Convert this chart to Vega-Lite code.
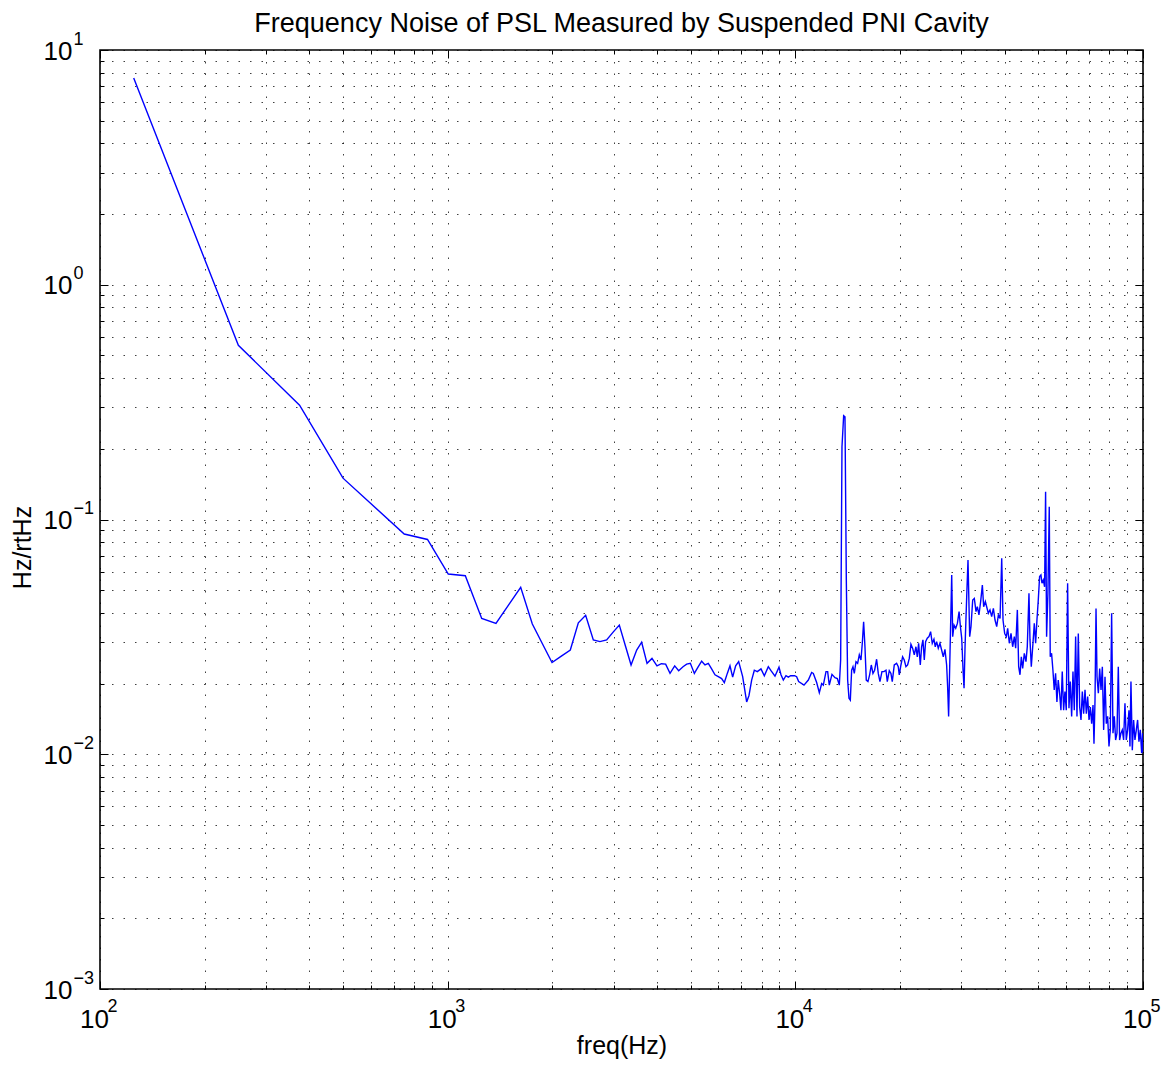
{
  "$schema": "https://vega.github.io/schema/vega-lite/v6.json",
  "width": 1043,
  "height": 939,
  "autosize": {"type": "none"},
  "padding": {"left": 100, "top": 50, "right": 25, "bottom": 79},
  "background": "white",
  "config": {"view": {"stroke": "#000", "strokeWidth": 1.6}, "font": "Liberation Sans"},
  "title": {"text": "Frequency Noise of PSL Measured by Suspended PNI Cavity", "font": "Liberation Sans", "fontSize": 27, "fontWeight": "normal", "color": "#000", "anchor": "middle", "frame": "group", "baseline": "alphabetic", "offset": -29},
  "data": {"values": [
{"f":125,"v":7.6},{"f":250,"v":0.552},{"f":375,"v":0.307},{"f":500,"v":0.150},{"f":750,"v":0.0867},{"f":875,"v":0.0822},
{"f":1004,"v":0.0586},{"f":1124,"v":0.0576},{"f":1253,"v":0.0379},{"f":1377,"v":0.0361},{"f":1501,"v":0.0435},{"f":1622,"v":0.0514},{"f":1752,"v":0.0359},{"f":1876,"v":0.0294},{"f":1996,"v":0.0246},{"f":2123,"v":0.0262},{"f":2253,"v":0.0278},{"f":2376,"v":0.0363},{"f":2494,"v":0.0391},{"f":2624,"v":0.0307},{"f":2742,"v":0.0302},{"f":2866,"v":0.0307},{"f":2996,"v":0.0332},{"f":3117,"v":0.0355},{"f":3251,"v":0.0287},{"f":3369,"v":0.0240},{"f":3497,"v":0.0278},{"f":3614,"v":0.0300},{"f":3745,"v":0.0244},{"f":3870,"v":0.0256},{"f":4000,"v":0.0238},{"f":4118,"v":0.0243},{"f":4236,"v":0.0242},{"f":4361,"v":0.0221},{"f":4498,"v":0.0238},{"f":4618,"v":0.0227},{"f":4753,"v":0.0236},{"f":4869,"v":0.0242},{"f":4989,"v":0.0244},{"f":5123,"v":0.0221},{"f":5248,"v":0.0235},{"f":5377,"v":0.0249},{"f":5497,"v":0.0240},{"f":5620,"v":0.0244},{"f":5744,"v":0.0231},{"f":5873,"v":0.0218},{"f":6004,"v":0.0214},{"f":6138,"v":0.0210},{"f":6248,"v":0.0202},{"f":6373,"v":0.0221},{"f":6487,"v":0.0238},{"f":6603,"v":0.0213},{"f":6735,"v":0.0238},{"f":6871,"v":0.0248},{"f":7055,"v":0.0214},{"f":7244,"v":0.0167},{"f":7357,"v":0.0178},{"f":7488,"v":0.0207},{"f":7622,"v":0.0228},{"f":7774,"v":0.0225},{"f":7965,"v":0.0231},{"f":8143,"v":0.0216},{"f":8361,"v":0.0236},{"f":8511,"v":0.0227},{"f":8739,"v":0.0215},{"f":8974,"v":0.0235},{"f":9094,"v":0.0218},{"f":9236,"v":0.0207},{"f":9400,"v":0.0216},{"f":9546,"v":0.0213},{"f":9694,"v":0.0216},{"f":9954,"v":0.0216},{"f":10087,"v":0.0214},{"f":10222,"v":0.0204},{"f":10590,"v":0.0197},{"f":10898,"v":0.0207},{"f":11142,"v":0.0223},{"f":11265,"v":0.0221},{"f":11517,"v":0.0202},{"f":11722,"v":0.0183},{"f":11905,"v":0.0200},{"f":12037,"v":0.0197},{"f":12252,"v":0.0225},{"f":12387,"v":0.0225},{"f":12522,"v":0.0197},{"f":12746,"v":0.0219},{"f":13003,"v":0.0212},{"f":13206,"v":0.0210},{"f":13381,"v":0.0197},
{"f":13500,"v":0.0252},{"f":13620,"v":0.204},{"f":13772,"v":0.277},{"f":13893,"v":0.274},{"f":14017,"v":0.0553},{"f":14141,"v":0.0207},{"f":14266,"v":0.0173},{"f":14393,"v":0.0170},{"f":14520,"v":0.0228},{"f":14649,"v":0.0236},{"f":14778,"v":0.0221},{"f":14942,"v":0.0248},{"f":15108,"v":0.0244},{"f":15275,"v":0.0265},{"f":15445,"v":0.0252},{"f":15581,"v":0.0297},{"f":15719,"v":0.0367},{"f":15858,"v":0.0287},{"f":15998,"v":0.0207},{"f":16176,"v":0.0204},{"f":16356,"v":0.0218},{"f":16538,"v":0.0240},{"f":16722,"v":0.0221},{"f":16908,"v":0.0228},{"f":17131,"v":0.0254},{"f":17321,"v":0.0221},{"f":17514,"v":0.0204},{"f":17748,"v":0.0225},{"f":17985,"v":0.0225},{"f":18226,"v":0.0228},{"f":18386,"v":0.0204},{"f":18630,"v":0.0227},{"f":18836,"v":0.0221},{"f":19004,"v":0.0204},{"f":19256,"v":0.0240},{"f":19556,"v":0.0244},{"f":19773,"v":0.0236},{"f":19905,"v":0.0218},{"f":20126,"v":0.0240},{"f":20350,"v":0.0260},{"f":20576,"v":0.0252},{"f":20805,"v":0.0236},{"f":21036,"v":0.0240},{"f":21270,"v":0.0256},{"f":21504,"v":0.0294},{"f":21743,"v":0.0283},{"f":21985,"v":0.0265},{"f":22229,"v":0.0287},{"f":22429,"v":0.0260},{"f":22627,"v":0.0297},{"f":22878,"v":0.0240},{"f":23079,"v":0.0287},{"f":23282,"v":0.0307},{"f":23491,"v":0.0252},{"f":23698,"v":0.0302},{"f":23961,"v":0.0312},{"f":24227,"v":0.0317},{"f":24496,"v":0.0333},{"f":24768,"v":0.0297},{"f":25043,"v":0.0309},{"f":25263,"v":0.0287},{"f":25491,"v":0.0302},{"f":25774,"v":0.0283},{"f":26060,"v":0.0297},{"f":26350,"v":0.0278},{"f":26643,"v":0.0260},{"f":26938,"v":0.0280},{"f":27238,"v":0.0240},{"f":27420,"v":0.0194},{"f":27600,"v":0.0145},{"f":27860,"v":0.0274},{"f":28170,"v":0.0580},{"f":28354,"v":0.0317},{"f":28611,"v":0.0355},{"f":28930,"v":0.0344},{"f":29250,"v":0.0361},{"f":29580,"v":0.0405},{"f":29840,"v":0.0350},{"f":30100,"v":0.0312},{"f":30370,"v":0.0228},{"f":30570,"v":0.0191},{"f":30770,"v":0.0287},{"f":31110,"v":0.0469},{"f":31380,"v":0.0672},{"f":31730,"v":0.0317},{"f":32010,"v":0.0350},{"f":32370,"v":0.0454},{"f":32720,"v":0.0461},{"f":33090,"v":0.0405},{"f":33380,"v":0.0425},{"f":33740,"v":0.0392},{"f":34120,"v":0.0447},{"f":34510,"v":0.0526},{"f":34810,"v":0.0425},{"f":35200,"v":0.0447},{"f":35510,"v":0.0425},{"f":35900,"v":0.0399},{"f":36300,"v":0.0412},{"f":36710,"v":0.0386},{"f":37120,"v":0.0418},{"f":37530,"v":0.0373},{"f":37950,"v":0.0350},{"f":38370,"v":0.0392},{"f":38800,"v":0.0379},{"f":39230,"v":0.0683},{"f":39570,"v":0.0373},{"f":40010,"v":0.0327},{"f":40450,"v":0.0317},{"f":40810,"v":0.0344},{"f":41260,"v":0.0297},{"f":41720,"v":0.0327},{"f":42180,"v":0.0287},{"f":42650,"v":0.0317},{"f":43030,"v":0.0283},{"f":43510,"v":0.0412},{"f":43890,"v":0.0236},{"f":44280,"v":0.0218},{"f":44670,"v":0.0260},{"f":45070,"v":0.0232},{"f":45560,"v":0.0269},{"f":46070,"v":0.0248},{"f":46470,"v":0.0287},{"f":46990,"v":0.0485},{"f":47310,"v":0.0307},{"f":47720,"v":0.0236},{"f":48250,"v":0.0297},{"f":48680,"v":0.0361},{"f":49110,"v":0.0297},{"f":49540,"v":0.0373},{"f":49980,"v":0.0454},{"f":50420,"v":0.0571},{"f":50870,"v":0.0580},{"f":51210,"v":0.0535},{"f":51660,"v":0.0553},{"f":52120,"v":0.0517},{"f":52460,"v":0.1314},{"f":52810,"v":0.0317},{"f":53270,"v":0.0485},{"f":53750,"v":0.1134},{"f":54100,"v":0.0260},{"f":54580,"v":0.0269},{"f":55070,"v":0.0228},{"f":55550,"v":0.0188},{"f":56050,"v":0.0221},{"f":56550,"v":0.0167},{"f":57040,"v":0.0207},{"f":57560,"v":0.0182},{"f":58070,"v":0.0154},{"f":58580,"v":0.0225},{"f":59110,"v":0.0154},{"f":59630,"v":0.0185},{"f":60160,"v":0.0154},{"f":60700,"v":0.0535},{"f":61240,"v":0.0157},{"f":61780,"v":0.0204},{"f":62340,"v":0.0145},{"f":62890,"v":0.0225},{"f":63440,"v":0.0154},{"f":64010,"v":0.0317},{"f":64580,"v":0.0145},{"f":65150,"v":0.0327},{"f":65740,"v":0.0159},{"f":66320,"v":0.0140},{"f":66910,"v":0.0185},{"f":67490,"v":0.0149},{"f":68110,"v":0.0188},{"f":68710,"v":0.0149},{"f":69320,"v":0.0176},{"f":69940,"v":0.0140},{"f":70560,"v":0.0159},{"f":71180,"v":0.0135},{"f":71820,"v":0.0162},{"f":72280,"v":0.0111},{"f":72770,"v":0.0170},{"f":73260,"v":0.0418},{"f":73750,"v":0.0214},{"f":74400,"v":0.0182},{"f":75060,"v":0.0232},{"f":75730,"v":0.0188},{"f":76390,"v":0.0236},{"f":77060,"v":0.0127},{"f":77750,"v":0.0214},{"f":78430,"v":0.0135},{"f":79120,"v":0.0145},{"f":79830,"v":0.0108},{"f":80530,"v":0.0127},{"f":81240,"v":0.0399},{"f":81970,"v":0.0123},{"f":82690,"v":0.0145},{"f":83420,"v":0.0115},{"f":84170,"v":0.0123},{"f":84910,"v":0.0236},{"f":85650,"v":0.0115},{"f":86420,"v":0.0123},{"f":87180,"v":0.0127},{"f":87950,"v":0.0115},{"f":88740,"v":0.0165},{"f":89520,"v":0.0115},{"f":90310,"v":0.0127},{"f":91120,"v":0.0154},{"f":91730,"v":0.0108},{"f":92330,"v":0.0204},{"f":93160,"v":0.0104},{"f":93980,"v":0.0140},{"f":94810,"v":0.0115},{"f":95660,"v":0.0127},{"f":96500,"v":0.0140},{"f":97350,"v":0.0113},{"f":98240,"v":0.0127},{"f":99110,"v":0.0101},{"f":99770,"v":0.0123},{"f":100000,"v":0.0102}
  ]},
  "layer": [
    {
      "mark": {"type": "line", "color": "#0000ff", "strokeWidth": 1.4, "clip": true},
      "encoding": {
        "x": {"field": "f", "type": "quantitative", "scale": {"type": "log", "domain": [100, 100000], "nice": false},
          "axis": {"orient": "bottom", "values": [100, 1000, 10000, 100000], "labelExpr": "'10'", "ticks": false, "grid": false, "domain": false,
            "labelFont": "Liberation Sans", "labelFontSize": 26, "labelColor": "#000", "labelAlign": "center", "labelBaseline": "middle", "labelPadding": 30, "labelOffset": -6, "labelOverlap": false, "labelFlush": false, "labelBound": false,
            "title": "freq(Hz)", "titleFont": "Liberation Sans", "titleFontSize": 25, "titleFontWeight": "normal", "titleColor": "#000", "titleBaseline": "alphabetic", "titleAlign": "center", "titleY": 64}},
        "y": {"field": "v", "type": "quantitative", "scale": {"type": "log", "domain": [0.001, 10], "nice": false},
          "axis": {"orient": "left", "values": [0.001, 0.01, 0.1, 1, 10], "labelExpr": "'10'", "ticks": false, "grid": false, "domain": false,
            "labelFont": "Liberation Sans", "labelFontSize": 26, "labelColor": "#000", "labelAlign": "right", "labelBaseline": "middle", "labelPadding": 28, "labelOffset": 1, "labelOverlap": false, "labelFlush": false, "labelBound": false,
            "title": "Hz/rtHz", "titleFont": "Liberation Sans", "titleFontSize": 25, "titleFontWeight": "normal", "titleColor": "#000", "titleAngle": 270, "titleBaseline": "middle", "titleAlign": "center", "titleX": -78, "titleY": 497}}
      }
    },
    {
      "mark": {"type": "line", "opacity": 0},
      "encoding": {
        "x": {"field": "f", "type": "quantitative", "scale": {"type": "log", "domain": [100, 100000], "nice": false},
          "axis": {"orient": "top", "values": [100,200,300,400,500,600,700,800,900,1000,2000,3000,4000,5000,6000,7000,8000,9000,10000,20000,30000,40000,50000,60000,70000,80000,90000,100000], "labels": false, "grid": false, "domain": false, "title": null,
            "ticks": true, "tickColor": "#000", "tickWidth": 1, "tickSize": {"condition": {"test": "indexof([100,1000,10000,100000], datum.value) >= 0", "value": -8}, "value": -4}}},
        "y": {"field": "v", "type": "quantitative", "scale": {"type": "log", "domain": [0.001, 10], "nice": false},
          "axis": {"orient": "right", "values": [0.001,0.002,0.003,0.004,0.005,0.006,0.007,0.008,0.009,0.01,0.02,0.03,0.04,0.05,0.06,0.07,0.08,0.09,0.1,0.2,0.3,0.4,0.5,0.6,0.7,0.8,0.9,1,2,3,4,5,6,7,8,9,10], "labels": false, "grid": false, "domain": false, "title": null,
            "ticks": true, "tickColor": "#000", "tickWidth": 1, "tickSize": {"condition": {"test": "indexof([0.001,0.01,0.1,1,10], datum.value) >= 0", "value": -8}, "value": -4}}}
      }
    },
    {
      "mark": {"type": "line", "opacity": 0},
      "encoding": {
        "x": {"field": "f", "type": "quantitative", "scale": {"type": "log", "domain": [100, 100000], "nice": false},
          "axis": {"orient": "bottom", "values": [100, 1000, 10000, 100000], "labelExpr": "datum.value == 100 ? '2' : datum.value == 1000 ? '3' : datum.value == 10000 ? '4' : '5'", "ticks": false, "grid": false, "domain": false, "title": null,
            "labelFont": "Liberation Sans", "labelFontSize": 18, "labelColor": "#000", "labelAlign": "left", "labelBaseline": "middle", "labelPadding": 17, "labelOffset": 7, "labelOverlap": false, "labelFlush": false, "labelBound": false}},
        "y": {"field": "v", "type": "quantitative", "scale": {"type": "log", "domain": [0.001, 10], "nice": false},
          "axis": {"orient": "left", "values": [0.001, 0.01, 0.1, 1, 10], "labelExpr": "datum.value == 0.001 ? '−3' : datum.value == 0.01 ? '−2' : datum.value == 0.1 ? '−1' : datum.value == 1 ? '0' : '1'", "ticks": false, "grid": false, "domain": false, "title": null,
            "labelFont": "Liberation Sans", "labelFontSize": 18, "labelColor": "#000", "labelAlign": "left", "labelBaseline": "middle", "labelPadding": 27, "labelOffset": -11, "labelOverlap": false, "labelFlush": false, "labelBound": false}}
      }
    },
    {
      "mark": {"type": "line", "opacity": 0},
      "encoding": {
        "x": {"field": "f", "type": "quantitative", "scale": {"type": "log", "domain": [100, 100000], "nice": false},
          "axis": {"orient": "bottom", "values": [100,200,300,400,500,600,700,800,900,1000,2000,3000,4000,5000,6000,7000,8000,9000,10000,20000,30000,40000,50000,60000,70000,80000,90000,100000], "labels": false, "domain": false, "title": null,
            "grid": true, "gridColor": "#000", "gridWidth": 1, "gridDash": [1.5, 10], "gridOpacity": 0.75,
            "ticks": true, "tickColor": "#000", "tickWidth": 1, "tickSize": {"condition": {"test": "indexof([100,1000,10000,100000], datum.value) >= 0", "value": -8}, "value": -4}}},
        "y": {"field": "v", "type": "quantitative", "scale": {"type": "log", "domain": [0.001, 10], "nice": false},
          "axis": {"orient": "left", "values": [0.001,0.002,0.003,0.004,0.005,0.006,0.007,0.008,0.009,0.01,0.02,0.03,0.04,0.05,0.06,0.07,0.08,0.09,0.1,0.2,0.3,0.4,0.5,0.6,0.7,0.8,0.9,1,2,3,4,5,6,7,8,9,10], "labels": false, "domain": false, "title": null,
            "grid": true, "gridColor": "#000", "gridWidth": 1, "gridDash": [1.5, 10], "gridOpacity": 0.75,
            "ticks": true, "tickColor": "#000", "tickWidth": 1, "tickSize": {"condition": {"test": "indexof([0.001,0.01,0.1,1,10], datum.value) >= 0", "value": -8}, "value": -4}}}
      }
    }
  ],
  "resolve": {"axis": {"x": "independent", "y": "independent"}}
}
